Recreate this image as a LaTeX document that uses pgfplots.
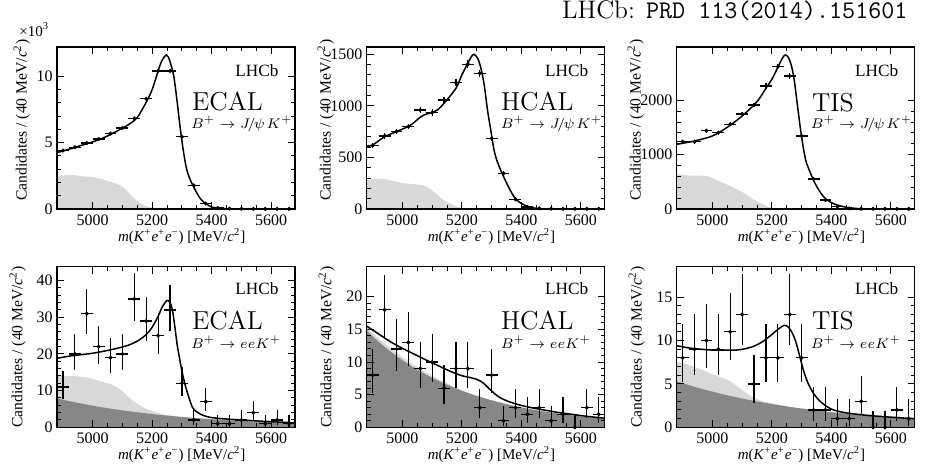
\documentclass[border=0pt]{standalone}
\usepackage{fontspec}
\usepackage{pgfplots}
\pgfplotsset{compat=1.18}
\newfontfamily\tnr{Liberation Serif}
\definecolor{lgrey}{RGB}{216,216,216}
\definecolor{dgrey}{RGB}{135,135,135}
\pgfplotsset{
 lhcb/.style={
  scale only axis, width=119pt, height=81pt,
  anchor=south west,
  xmin=4880, xmax=5680, ymin=0,
  xtick={5000,5200,5400,5600}, minor x tick num=3, minor y tick num=4,
  tick align=inside, xtick pos=both, ytick pos=both,
  major tick length=3.5pt, minor tick length=2pt,
  axis line style={line width=0.6pt},
  every tick/.style={black, line width=0.5pt},
  tick label style={font=\tnr\fontsize{8}{9}\selectfont, inner sep=0pt},
  xticklabel style={yshift=-2.6pt},
  yticklabel style={xshift=-2pt},
  /pgf/number format/assume math mode=true,
  /pgf/number format/1000 sep={},
  scaled ticks=false,
  axis on top,
  xlabel={\textit{m}(\textit{K}\textsuperscript{+}\textit{e}\textsuperscript{+}\textit{e}\textsuperscript{\textminus}) [MeV/\textit{c}\textsuperscript{2}]},
  xlabel style={font=\tnr\fontsize{7.5}{9}\selectfont, inner sep=0pt, at={(axis description cs:0.524,0)}, anchor=base, yshift=-16.2pt},
  ylabel={Candidates / (40 MeV/\textit{c}\textsuperscript{2})},
  ylabel style={font=\tnr\fontsize{7.8}{9}\selectfont, inner sep=0pt, anchor=center},
 },
 toprow/.style={height=81pt, ylabel style={at={(axis description cs:#1,0.55)}}},
 botrow/.style={height=80.3pt, ylabel style={at={(axis description cs:#1,0.5)}}},
 dat/.style={black, only marks, mark=*, mark size=0.8pt,
   error bars/.cd, x dir=both, x explicit, y dir=both, y explicit, error mark=none,
   error bar style={line width=0.6pt, black}},
 fit/.style={black, line width=0.75pt, smooth, no marks},
 lfill/.style={draw=none, fill=lgrey, smooth, no marks},
 dfill/.style={draw=none, fill=dgrey, smooth, no marks},
}
\newcommand{\lhcb}[1]{%
 \node[anchor=base west, inner sep=0, font=\tnr\fontsize{8.6}{10}\selectfont] at (rel axis cs:0.748,#1) {LHCb};}
\newcommand{\jpsi}{\node[anchor=base west, inner sep=0, font=\fontsize{7.3}{9}\selectfont] at (rel axis cs:0.562,0.498) {$B^{+}\to J\mskip-3mu/\mskip-2mu\psi\mskip2mu K^{+}$};}
\newcommand{\eek}{\node[anchor=base west, inner sep=0, font=\fontsize{7.3}{9}\selectfont] at (rel axis cs:0.562,0.49) {$B^{+}\to eeK^{+}$};}
\begin{document}
\begin{tikzpicture}
\path[use as bounding box] (0,0) rectangle (463.5pt,-234pt);
\node[anchor=base east, inner sep=0] at (454pt,-9pt) {\fontsize{12.7}{14}\selectfont LHCb: \ttfamily PRD 113(2014).151601};
\node[anchor=base west, inner sep=0, font=\tnr\fontsize{7.5}{9}\selectfont] at (9.5pt,-18pt) {×10\textsuperscript{3}};

% ---------- Panel 1: ECAL J/psi K ----------
\begin{axis}[lhcb, toprow=-0.148, at={(28.5pt,-104.5pt)}, ymax=12.2, ytick={0,5,10}]
\addplot[lfill] coordinates {(4880,2.5) (4910,2.55) (4940,2.55) (4970,2.45) (5000,2.4) (5030,2.25) (5060,2.05) (5090,1.8) (5110,1.5) (5130,1.0) (5150,0.6) (5175,0.25) (5200,0.1) (5230,0.02) (5250,0)} \closedcycle;
\addplot[fit] coordinates {(4880,4.25) (4920,4.5) (4960,4.78) (5000,5.05) (5040,5.4) (5080,5.85) (5120,6.35) (5150,6.9) (5180,8.05) (5200,9.0) (5220,10.4) (5231,11.1) (5242,11.5) (5248,11.6) (5254,11.45) (5262,10.95) (5273,9.95) (5284,8.05) (5295,5.95) (5306,4.2) (5317,2.9) (5334,1.9) (5361,0.8) (5382,0.38) (5400,0.15) (5430,0.04) (5470,0.01) (5520,0) (5600,0) (5680,0)};
\addplot[dat] coordinates {(4900,4.40) +- (20,0.066) (4940,4.65) +- (20,0.068) (4980,4.97) +- (20,0.07) (5020,5.27) +- (20,0.073) (5060,5.68) +- (20,0.075) (5100,6.10) +- (20,0.078) (5140,6.82) +- (20,0.083) (5180,8.30) +- (20,0.091) (5220,10.40) +- (20,0.102) (5260,10.40) +- (20,0.102) (5300,5.45) +- (20,0.074) (5340,1.78) +- (20,0.042) (5380,0.42) +- (20,0.02) (5420,0.08) +- (20,0.009) (5460,0.03) +- (20,0.005) (5500,0.02) +- (20,0.004) (5540,0.01) +- (20,0.003) (5580,0.01) +- (20,0.003) (5620,0.01) +- (20,0.003) (5660,0.01) +- (20,0.003)};
\lhcb{0.817}
\node[anchor=base west, inner sep=0, font=\fontsize{13}{15}\selectfont] at (rel axis cs:0.566,0.605) {ECAL};
\jpsi
\end{axis}

% ---------- Panel 2: HCAL J/psi K ----------
\begin{axis}[lhcb, toprow=-0.172, at={(183.35pt,-104.5pt)}, ymax=1570, ytick={0,500,1000,1500}]
\addplot[lfill] coordinates {(4880,281) (4910,290) (4940,291) (4970,270) (5000,252) (5033,242) (5066,232) (5085,210) (5100,180) (5121,129) (5143,78) (5176,32) (5200,8) (5220,0)} \closedcycle;
\addplot[fit] coordinates {(4880,605) (4900,620) (4940,700) (4980,750) (5020,800) (5040,840) (5060,890) (5080,920) (5100,935) (5120,965) (5140,1025) (5180,1170) (5200,1300) (5220,1413) (5230,1468) (5240,1500) (5253,1461) (5264,1364) (5275,1203) (5286,960) (5297,766) (5308,572) (5319,459) (5335,346) (5362,184) (5384,87) (5417,29) (5450,6) (5480,0) (5680,0)};
\addplot[dat] coordinates {(4900,614) +- (20,25) (4940,708) +- (20,27) (4980,750) +- (20,27) (5020,799) +- (20,28) (5060,960) +- (20,31) (5100,934) +- (20,31) (5140,1057) +- (20,33) (5180,1225) +- (20,35) (5220,1403) +- (20,37) (5260,1316) +- (20,36) (5300,685) +- (20,26) (5340,346) +- (20,19) (5380,94) +- (20,10) (5420,20) +- (20,4.5) (5460,6) +- (20,2.4) (5500,3) +- (20,1.7) (5540,2) +- (20,1.4) (5580,2) +- (20,1.4) (5620,2) +- (20,1.4) (5660,2) +- (20,1.4)};
\lhcb{0.817}
\node[anchor=base west, inner sep=0, font=\fontsize{13}{15}\selectfont] at (rel axis cs:0.563,0.605) {HCAL};
\jpsi
\end{axis}

% ---------- Panel 3: TIS J/psi K ----------
\begin{axis}[lhcb, toprow=-0.172, at={(338.35pt,-104.5pt)}, ymax=2980, ytick={0,1000,2000}]
\addplot[lfill] coordinates {(4880,644) (4928,613) (4966,613) (4988,595) (5020,521) (5064,411) (5108,288) (5141,166) (5174,74) (5196,31) (5220,0)} \closedcycle;
\addplot[fit] coordinates {(4880,1190) (4940,1252) (5000,1344) (5050,1503) (5100,1712) (5150,1975) (5180,2221) (5200,2387) (5220,2607) (5235,2773) (5245,2834) (5255,2791) (5265,2650) (5275,2374) (5285,1945) (5295,1515) (5305,1147) (5315,871) (5330,656) (5345,472) (5365,288) (5385,166) (5410,92) (5440,43) (5480,12) (5530,0) (5680,0)};
\addplot[dat] coordinates {(4900,1239) +- (20,35) (4940,1239) +- (20,35) (4980,1442) +- (20,38) (5020,1405) +- (20,37) (5060,1558) +- (20,39) (5100,1748) +- (20,42) (5140,1914) +- (20,44) (5180,2264) +- (20,48) (5220,2620) +- (20,51) (5260,2448) +- (20,49) (5300,1344) +- (20,37) (5340,552) +- (20,23) (5380,166) +- (20,13) (5420,43) +- (20,6.5) (5460,10) +- (20,3) (5500,4) +- (20,2) (5540,3) +- (20,1.7) (5580,3) +- (20,1.7) (5620,2) +- (20,1.4) (5660,2) +- (20,1.4)};
\lhcb{0.817}
\node[anchor=base west, inner sep=0, font=\fontsize{13}{15}\selectfont] at (rel axis cs:0.567,0.605) {TIS};
\jpsi
\end{axis}

% ---------- Panel 4: ECAL eeK ----------
\begin{axis}[lhcb, botrow=-0.166, at={(28.5pt,-213.65pt)}, ymax=43.8, ytick={0,10,20,30,40}]
\addplot[lfill] coordinates {(4880,14.0) (4920,14.0) (4960,13.8) (5000,13.2) (5040,12.2) (5060,11.8) (5080,11.0) (5100,9.8) (5120,8.3) (5140,6.9) (5160,5.9) (5180,5.0) (5200,4.4) (5220,3.9) (5240,3.5) (5260,3.2) (5280,2.98)} \closedcycle;
\addplot[dfill] coordinates {(4880,7.90) (4920,7.17) (4960,6.50) (5000,5.90) (5040,5.35) (5080,4.85) (5120,4.40) (5160,3.99) (5200,3.62) (5240,3.28) (5280,2.98) (5320,2.70) (5360,2.45) (5400,2.22) (5440,2.02) (5480,1.83) (5520,1.66) (5560,1.50) (5600,1.36) (5640,1.24) (5680,1.12)} \closedcycle;
\addplot[fit] coordinates {(4880,18.8) (4920,19.4) (4960,19.8) (5000,20.2) (5040,20.8) (5080,21.5) (5120,22.4) (5150,23.5) (5180,25.3) (5200,27.3) (5220,30.3) (5235,33.0) (5250,34.6) (5260,34.0) (5268,32.0) (5276,27.5) (5284,22.5) (5292,18.8) (5300,15.3) (5310,11.8) (5320,9.0) (5335,5.5) (5350,4.2) (5370,3.3) (5390,2.8) (5420,2.45) (5460,2.2) (5500,2.0) (5540,1.8) (5580,1.62) (5620,1.45) (5680,1.25)};
\addplot[dat] coordinates {(4900,11) += (20,4.42) -= (20,3.27) (4940,20) += (20,5.55) -= (20,4.44) (4980,31) += (20,6.62) -= (20,5.54) (5020,22) += (20,5.76) -= (20,4.66) (5060,19) += (20,5.44) -= (20,4.32) (5100,20) += (20,5.55) -= (20,4.44) (5140,35) += (20,6.97) -= (20,5.89) (5180,29) += (20,6.44) -= (20,5.36) (5220,25) += (20,6.06) -= (20,4.97) (5260,32) += (20,6.71) -= (20,5.63) (5300,12) += (20,4.56) -= (20,3.41) (5340,2) += (20,2.64) -= (20,1.29) (5380,7) += (20,3.77) -= (20,2.58) (5420,1) += (20,2.30) -= (20,0.83) (5460,1) += (20,2.30) -= (20,0.83) (5500,2) += (20,2.64) -= (20,1.29) (5540,4) += (20,3.16) -= (20,1.91) (5580,1) += (20,2.30) -= (20,0.83) (5620,2) += (20,2.64) -= (20,1.29) (5660,1) += (20,2.30) -= (20,0.83)};
\lhcb{0.828}
\node[anchor=base west, inner sep=0, font=\fontsize{13}{15}\selectfont] at (rel axis cs:0.566,0.607) {ECAL};
\eek
\end{axis}

% ---------- Panel 5: HCAL eeK ----------
\begin{axis}[lhcb, botrow=-0.168, at={(183.35pt,-213.65pt)}, ymax=24.6, ytick={0,5,10,15,20}]
\addplot[lfill] coordinates {(4880,15.2) (4920,13.6) (4960,12.1) (5000,10.75) (5040,9.5) (5080,8.4) (5120,7.4) (5160,6.5) (5200,5.65) (5220,5.28)} \closedcycle;
\addplot[dfill] coordinates {(4880,14.80) (4920,13.11) (4960,11.61) (5000,10.29) (5040,9.11) (5080,8.07) (5120,7.15) (5160,6.33) (5200,5.61) (5240,4.97) (5280,4.40) (5320,3.90) (5360,3.46) (5400,3.06) (5440,2.71) (5480,2.40) (5520,2.13) (5560,1.89) (5600,1.67) (5640,1.48) (5680,1.31)} \closedcycle;
\addplot[fit] coordinates {(4880,15.5) (4920,14.3) (4960,13.1) (5000,12.1) (5040,11.2) (5080,10.3) (5120,9.45) (5160,8.6) (5200,7.9) (5230,7.6) (5250,7.35) (5270,6.85) (5290,6.0) (5310,5.15) (5330,4.5) (5360,3.9) (5400,3.35) (5440,2.95) (5480,2.62) (5520,2.3) (5560,2.05) (5600,1.8) (5640,1.58) (5680,1.4)};
\addplot[dat] coordinates {(4900,8) += (20,3.94) -= (20,2.77) (4940,18) += (20,5.33) -= (20,4.21) (4980,12) += (20,4.56) -= (20,3.41) (5020,13) += (20,4.70) -= (20,3.56) (5060,9) += (20,4.11) -= (20,2.94) (5100,10) += (20,4.26) -= (20,3.11) (5140,6) += (20,3.58) -= (20,2.38) (5180,9) += (20,4.11) -= (20,2.94) (5220,9) += (20,4.11) -= (20,2.94) (5260,3) += (20,2.92) -= (20,1.63) (5300,8) += (20,3.94) -= (20,2.77) (5340,1) += (20,2.30) -= (20,0.83) (5380,3) += (20,2.92) -= (20,1.63) (5420,2) += (20,2.64) -= (20,1.29) (5460,3) += (20,2.92) -= (20,1.63) (5500,1) += (20,2.30) -= (20,0.83) (5540,2) += (20,2.64) -= (20,1.29) (5580,0) += (20,1.84) -= (20,0) (5620,3) += (20,2.92) -= (20,1.63) (5660,2) += (20,2.64) -= (20,1.29)};
\lhcb{0.828}
\node[anchor=base west, inner sep=0, font=\fontsize{13}{15}\selectfont] at (rel axis cs:0.563,0.607) {HCAL};
\eek
\end{axis}

% ---------- Panel 6: TIS eeK ----------
\begin{axis}[lhcb, botrow=-0.168, at={(338.35pt,-213.65pt)}, ymax=18.5, ytick={0,5,10,15}]
\addplot[lfill] coordinates {(4880,7.6) (4920,7.2) (4960,6.7) (5000,6.1) (5040,5.6) (5060,5.3) (5080,4.8) (5100,4.3) (5120,3.8) (5140,3.4) (5160,3.1) (5180,2.9) (5200,2.78) (5220,2.62) (5240,2.5) (5260,2.36)} \closedcycle;
\addplot[dfill] coordinates {(4880,5.30) (4920,4.87) (4960,4.47) (5000,4.11) (5040,3.77) (5080,3.46) (5120,3.18) (5160,2.92) (5200,2.68) (5240,2.46) (5280,2.26) (5320,2.08) (5360,1.91) (5400,1.75) (5440,1.61) (5480,1.48) (5520,1.36) (5560,1.25) (5600,1.15) (5640,1.05) (5680,0.97)} \closedcycle;
\addplot[fit] coordinates {(4880,9.4) (4920,9.15) (4960,9.0) (5000,8.9) (5040,8.88) (5080,8.9) (5110,9.05) (5140,9.35) (5170,9.9) (5200,10.7) (5225,11.4) (5242,11.75) (5255,11.55) (5268,10.9) (5280,9.9) (5292,8.4) (5305,6.7) (5320,5.2) (5340,3.9) (5365,2.9) (5400,2.1) (5440,1.72) (5480,1.53) (5520,1.38) (5560,1.27) (5600,1.17) (5640,1.08) (5680,1.0)};
\addplot[dat] coordinates {(4900,8) += (20,3.94) -= (20,2.77) (4940,9) += (20,4.11) -= (20,2.94) (4980,10) += (20,4.26) -= (20,3.11) (5020,9) += (20,4.11) -= (20,2.94) (5060,11) += (20,4.42) -= (20,3.27) (5100,13) += (20,4.70) -= (20,3.56) (5140,5) += (20,3.38) -= (20,2.16) (5180,8) += (20,3.94) -= (20,2.77) (5220,8) += (20,3.94) -= (20,2.77) (5260,13) += (20,4.70) -= (20,3.56) (5300,8) += (20,3.94) -= (20,2.77) (5340,2) += (20,2.64) -= (20,1.29) (5380,2) += (20,2.64) -= (20,1.29) (5420,1) += (20,2.30) -= (20,0.83) (5460,1) += (20,2.30) -= (20,0.83) (5500,3) += (20,2.92) -= (20,1.63) (5540,0) += (20,1.84) -= (20,0) (5580,0) += (20,1.84) -= (20,0) (5620,2) += (20,2.64) -= (20,1.29) (5660,1) += (20,2.30) -= (20,0.83)};
\lhcb{0.828}
\node[anchor=base west, inner sep=0, font=\fontsize{13}{15}\selectfont] at (rel axis cs:0.567,0.607) {TIS};
\eek
\end{axis}
\end{tikzpicture}
\end{document}
